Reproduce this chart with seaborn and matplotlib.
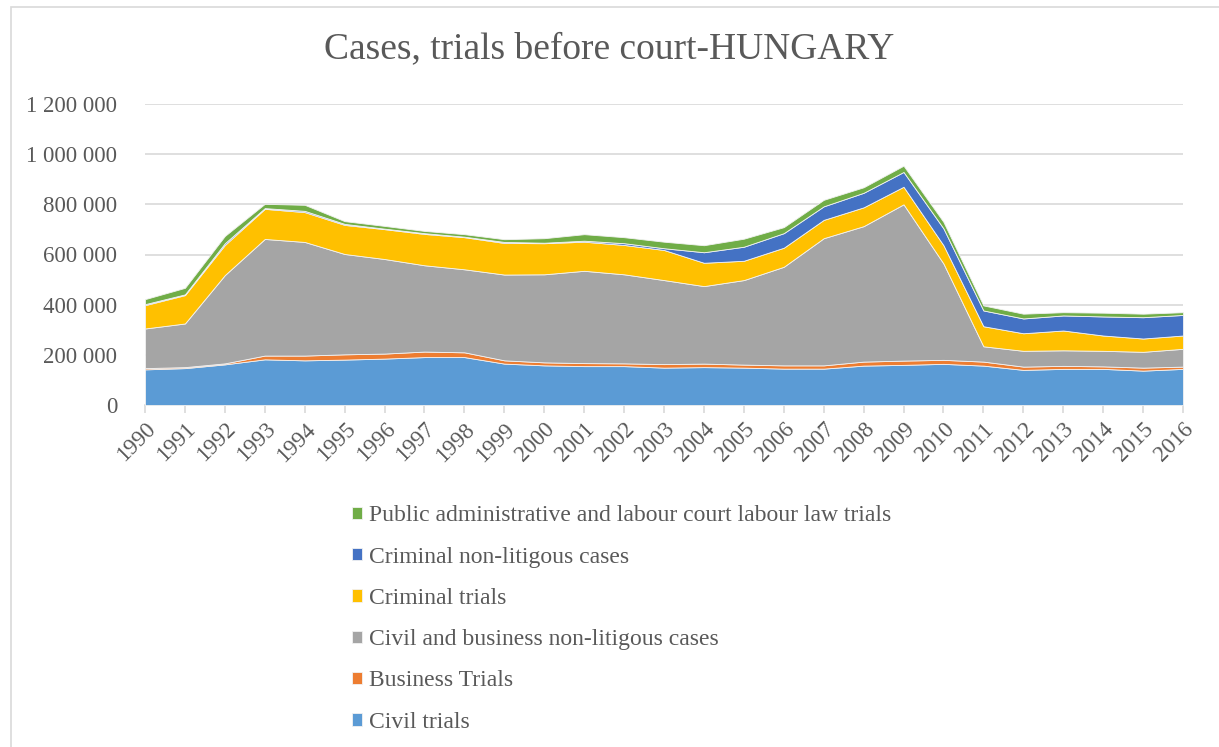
import numpy as np
import pandas as pd
import seaborn as sns
import matplotlib.pyplot as plt
from matplotlib.patches import Rectangle
from matplotlib.ticker import FuncFormatter

# Data ########################################################################

years = list(range(1990, 2017))

civil_trials = [142, 147, 162, 182, 178, 181, 185, 191, 191, 165, 158, 155, 155, 149,
                151, 149, 145, 145, 157, 160, 164, 157, 140, 144, 144, 137, 144]
business_trials = [5, 4, 4, 15, 19, 21, 20, 22, 19, 13, 12, 12, 11, 14,
                   14, 12, 13, 13, 16, 17, 16, 16, 13, 12, 10, 12, 9]
civil_nonlit = [158, 174, 352, 465, 453, 400, 377, 344, 331, 342, 351, 368, 355, 335,
                309, 337, 393, 507, 540, 623, 384, 61, 63, 62, 62, 63, 71]
criminal_trials = [93, 113, 120, 120, 119, 116, 119, 125, 128, 126, 124, 116, 117, 120,
                   93, 77, 76, 73, 75, 70, 73, 80, 70, 79, 61, 53, 53]
criminal_nonlit = [4, 3, 7, 3, 5, 4, 2, 3, 2, 4, 2, 4, 7, 7,
                   42, 56, 58, 54, 58, 59, 67, 63, 59, 60, 76, 85, 82]
public_admin = [20, 26, 29, 17, 24, 11, 11, 9, 10, 11, 18, 26, 24, 26,
                28, 32, 24, 26, 22, 25, 26, 20, 19, 13, 15, 14, 11]

series_names = [
    "Civil trials",
    "Business Trials",
    "Civil and business non-litigous cases",
    "Criminal trials",
    "Criminal non-litigous cases",
    "Public administrative and labour court labour law trials",
]
colors = ["#5B9BD5", "#ED7D31", "#A5A5A5", "#FFC000", "#4472C4", "#70AD47"]

df = pd.DataFrame({
    "year": years,
    series_names[0]: civil_trials,
    series_names[1]: business_trials,
    series_names[2]: civil_nonlit,
    series_names[3]: criminal_trials,
    series_names[4]: criminal_nonlit,
    series_names[5]: public_admin,
})
df[series_names] = df[series_names] * 1000

# Plot ########################################################################

sns.set_theme(style="whitegrid")
plt.rcParams['font.family'] = ['Liberation Serif', 'DejaVu Serif']
txt = "#595959"

fig = plt.figure(figsize=(12.19, 7.47), dpi=100)
ax = fig.add_axes([145 / 1219, 1 - 405 / 747, (1183 - 145) / 1219, (405 - 104) / 747])

ax.stackplot(df["year"], *[df[s] for s in series_names],
             colors=colors, labels=series_names,
             edgecolor="#f2f2f2", linewidth=0.6)

ax.set_xlim(1990, 2016)
ax.set_ylim(0, 1200000)
ax.set_yticks(np.arange(0, 1200001, 200000))
ax.yaxis.set_major_formatter(FuncFormatter(lambda v, p: f"{int(v):,}".replace(",", " ")))
ax.set_xticks(years)
ax.set_xticklabels([str(y) for y in years], rotation=45, ha="right",
                   rotation_mode="anchor")

ax.grid(axis="y", color="#d9d9d9", linewidth=1.2)
ax.grid(axis="x", visible=False)
ax.set_axisbelow(True)
for side in ["left", "right", "top"]:
    ax.spines[side].set_visible(False)
ax.spines["bottom"].set_color("#d9d9d9")
ax.spines["bottom"].set_linewidth(1.2)
ax.spines["bottom"].set_zorder(0)

ax.tick_params(axis="y", length=0, pad=20, labelsize=16.5, labelcolor=txt)
ax.tick_params(axis="x", length=6, width=1.2, color="#d9d9d9", direction="out",
               pad=4, labelsize=16.5, labelcolor=txt, bottom=True)

fig.text(0.5, 1 - 49 / 747, "Cases, trials before court-HUNGARY",
         ha="center", va="center", fontsize=27, color=txt)

handles, labels = ax.get_legend_handles_labels()
fig.legend(handles[::-1], labels[::-1], loc="upper left",
           bbox_to_anchor=(331 / 1219, 1 - 484 / 747), frameon=False,
           fontsize=17, labelcolor=txt, labelspacing=0.86,
           handlelength=0.43, handleheight=0.43, handletextpad=0.3)

# outer chart frame
fig.patches.append(Rectangle((11 / 1219, -0.1), 1.2, 1 - 7 / 747 + 0.1,
                             transform=fig.transFigure, fill=False,
                             edgecolor="#d9d9d9", linewidth=1.2))

fig.savefig("out.png", dpi=100)
